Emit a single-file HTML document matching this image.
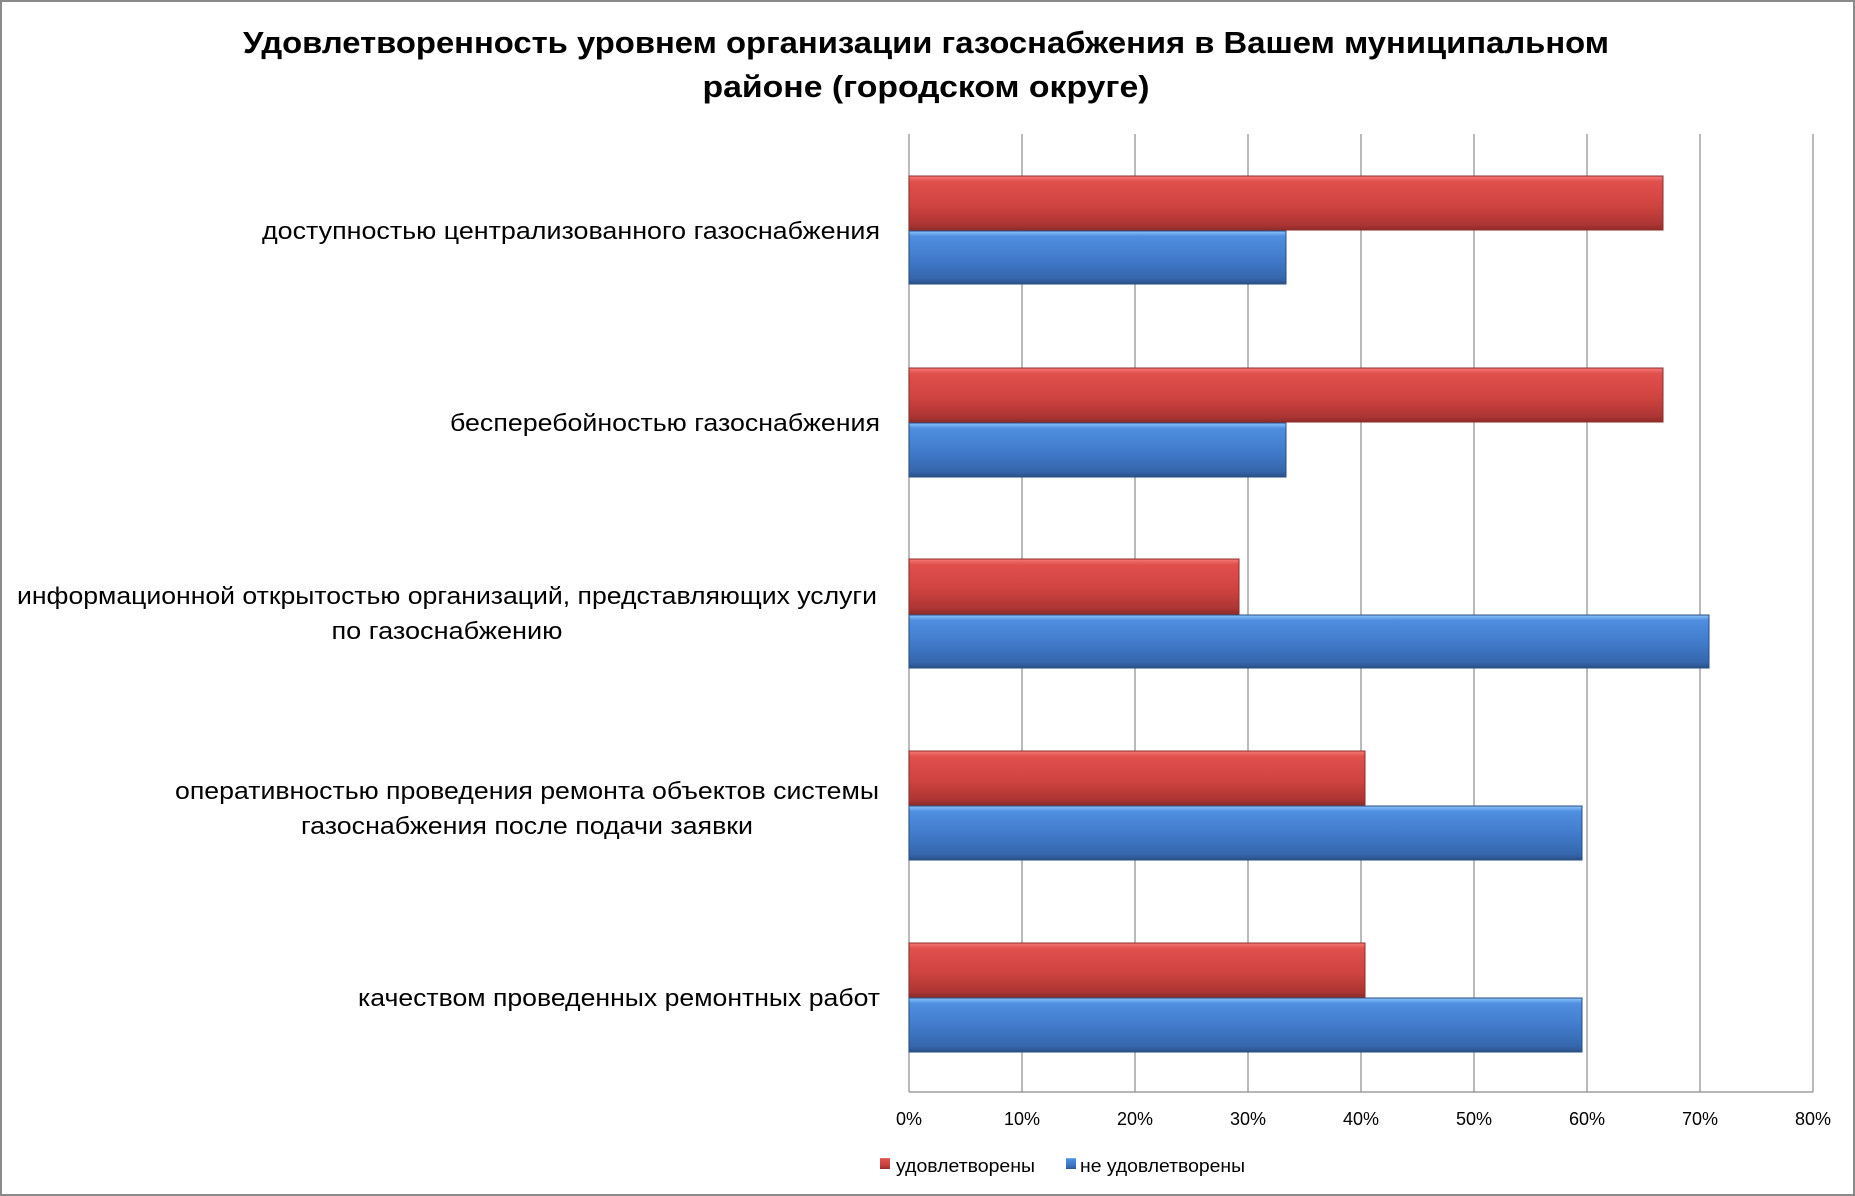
<!DOCTYPE html>
<html><head><meta charset="utf-8"><style>
html,body{margin:0;padding:0;background:#fff;}
svg{display:block;}
text{font-family:"Liberation Sans","DejaVu Sans",sans-serif;fill:#000;}
</style></head><body>
<svg width="1855" height="1196" viewBox="0 0 1855 1196" xmlns="http://www.w3.org/2000/svg">
<defs>
<linearGradient id="r" x1="0" y1="0" x2="0" y2="1">
<stop offset="0" stop-color="#f77a78"/><stop offset="0.1" stop-color="#e0504d"/><stop offset="0.55" stop-color="#cf4340"/><stop offset="0.9" stop-color="#ac3533"/><stop offset="1" stop-color="#8e2c2a"/>
</linearGradient>
<linearGradient id="b" x1="0" y1="0" x2="0" y2="1">
<stop offset="0" stop-color="#8cc6fb"/><stop offset="0.1" stop-color="#4f8ee0"/><stop offset="0.55" stop-color="#4179c9"/><stop offset="0.9" stop-color="#3466ab"/><stop offset="1" stop-color="#2a4f85"/>
</linearGradient>
</defs>
<rect x="1" y="1" width="1853" height="1194" fill="#fff" stroke="#8a8a8a" stroke-width="2"/>
<text x="926" y="53" text-anchor="middle" font-size="31" font-weight="bold" textLength="1366" lengthAdjust="spacingAndGlyphs">Удовлетворенность уровнем организации газоснабжения в Вашем муниципальном</text>
<text x="926" y="97" text-anchor="middle" font-size="31" font-weight="bold" textLength="447" lengthAdjust="spacingAndGlyphs">районе (городском округе)</text>
<g stroke="#8c8c8c" stroke-width="1.2">
<line x1="909" y1="134" x2="909" y2="1092"/>
<line x1="1022" y1="134" x2="1022" y2="1092"/>
<line x1="1135" y1="134" x2="1135" y2="1092"/>
<line x1="1248" y1="134" x2="1248" y2="1092"/>
<line x1="1361" y1="134" x2="1361" y2="1092"/>
<line x1="1474" y1="134" x2="1474" y2="1092"/>
<line x1="1587" y1="134" x2="1587" y2="1092"/>
<line x1="1700" y1="134" x2="1700" y2="1092"/>
<line x1="1813" y1="134" x2="1813" y2="1092"/>
<line x1="909" y1="1092" x2="1813" y2="1092"/>
</g>
<g stroke-width="1">
<rect x="909" y="176" width="754" height="54" fill="url(#r)" stroke="#8e2c2a"/>
<rect x="909" y="231" width="377" height="53" fill="url(#b)" stroke="#2a4f85"/>
<rect x="909" y="368" width="754" height="54" fill="url(#r)" stroke="#8e2c2a"/>
<rect x="909" y="423" width="377" height="54" fill="url(#b)" stroke="#2a4f85"/>
<rect x="909" y="559" width="330" height="55" fill="url(#r)" stroke="#8e2c2a"/>
<rect x="909" y="615" width="800" height="53" fill="url(#b)" stroke="#2a4f85"/>
<rect x="909" y="751" width="456" height="54" fill="url(#r)" stroke="#8e2c2a"/>
<rect x="909" y="806" width="673" height="54" fill="url(#b)" stroke="#2a4f85"/>
<rect x="909" y="943" width="456" height="54" fill="url(#r)" stroke="#8e2c2a"/>
<rect x="909" y="998" width="673" height="54" fill="url(#b)" stroke="#2a4f85"/>
</g>
<g font-size="24">
<text x="880" y="239" text-anchor="end" textLength="618" lengthAdjust="spacingAndGlyphs">доступностью централизованного газоснабжения</text>
<text x="880" y="431" text-anchor="end" textLength="430" lengthAdjust="spacingAndGlyphs">бесперебойностью газоснабжения</text>
<text x="447" y="604" text-anchor="middle" textLength="860" lengthAdjust="spacingAndGlyphs">информационной открытостью организаций, представляющих услуги</text>
<text x="447" y="639" text-anchor="middle" textLength="231" lengthAdjust="spacingAndGlyphs">по газоснабжению</text>
<text x="527" y="799" text-anchor="middle" textLength="704" lengthAdjust="spacingAndGlyphs">оперативностью проведения ремонта объектов системы</text>
<text x="527" y="834" text-anchor="middle" textLength="452" lengthAdjust="spacingAndGlyphs">газоснабжения после подачи заявки</text>
<text x="880" y="1006" text-anchor="end" textLength="522" lengthAdjust="spacingAndGlyphs">качеством проведенных ремонтных работ</text>
</g>
<g font-size="18" text-anchor="middle">
<text x="909" y="1125">0%</text>
<text x="1022" y="1125">10%</text>
<text x="1135" y="1125">20%</text>
<text x="1248" y="1125">30%</text>
<text x="1361" y="1125">40%</text>
<text x="1474" y="1125">50%</text>
<text x="1587" y="1125">60%</text>
<text x="1700" y="1125">70%</text>
<text x="1813" y="1125">80%</text>
</g>
<rect x="880" y="1158" width="10" height="11" fill="url(#r)"/>
<text x="896" y="1172" font-size="18" textLength="139" lengthAdjust="spacingAndGlyphs">удовлетворены</text>
<rect x="1066" y="1158" width="10" height="11" fill="url(#b)"/>
<text x="1080" y="1172" font-size="18" textLength="165" lengthAdjust="spacingAndGlyphs">не удовлетворены</text>
</svg>
</body></html>
